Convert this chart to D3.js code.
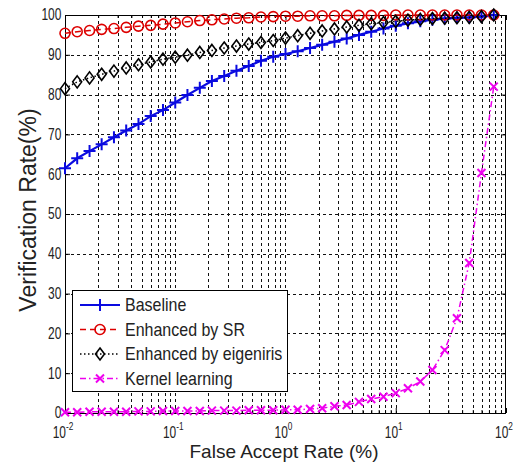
<!DOCTYPE html>
<html>
<head>
<meta charset="utf-8">
<script src="https://cdn.jsdelivr.net/npm/d3@7"></script>
<style>
  body { margin: 0; background: #fff; }
  text { font-family: "Liberation Sans", Arial, sans-serif; fill: #222; }
</style>
</head>
<body>
<svg id="chart" width="518" height="470"></svg>
<script>
// false accept rate (%) at each operating point
const far = [0.01, 0.0129, 0.0167, 0.0215, 0.0278, 0.0359, 0.0464, 0.0599, 0.0774,
  0.1, 0.129, 0.167, 0.215, 0.278, 0.359, 0.464, 0.599, 0.774,
  1, 1.29, 1.67, 2.15, 2.78, 3.59, 4.64, 5.99, 7.74,
  10, 12.9, 16.7, 21.5, 27.8, 35.9, 46.4, 59.9, 77.4];

const baseline = [61.5, 64.0, 65.8, 67.5, 69.3, 71.0, 72.6, 74.6, 76.1,
  78.0, 79.9, 81.7, 83.4, 84.7, 86.0, 87.2, 88.5, 89.5,
  90.2, 90.9, 91.7, 92.5, 93.3, 94.1, 95.0, 95.8, 96.6,
  97.3, 97.9, 98.4, 98.8, 99.1, 99.3, 99.4, 99.6, 100];

const enhancedSR = [95.4, 95.8, 96.1, 96.4, 96.6, 96.9, 97.2, 97.4, 97.7,
  98.0, 98.3, 98.6, 98.8, 99.0, 99.2, 99.3, 99.5, 99.6,
  99.7, 99.7, 99.8, 99.8, 99.8, 99.9, 99.9, 99.9, 99.9,
  100, 100, 100, 100, 100, 100, 100, 100, 100];

const eigeniris = [81.5, 83.2, 84.2, 85.1, 85.9, 86.7, 87.5, 88.2, 88.9,
  89.4, 89.9, 90.6, 91.1, 91.7, 92.2, 92.7, 93.1, 93.6,
  94.2, 94.8, 95.4, 96.0, 96.5, 97.0, 97.4, 97.8, 98.1,
  98.4, 98.7, 98.9, 99.1, 99.2, 99.3, 99.4, 99.6, 100];

const kernel = [0.2, 0.2, 0.3, 0.3, 0.3, 0.3, 0.4, 0.4, 0.5,
  0.5, 0.5, 0.5, 0.6, 0.6, 0.6, 0.7, 0.7, 0.7,
  0.8, 0.8, 1.0, 1.2, 1.7, 2.0, 2.8, 3.5, 4.1,
  5.0, 6.2, 7.9, 10.8, 15.8, 23.8, 37.7, 60.3, 82.0];

const seriesNames = ["Baseline", "Enhanced by SR", "Enhanced by eigeniris", "Kernel learning"];
const yTicks = [0, 10, 20, 30, 40, 50, 60, 70, 80, 90, 100];
const xMajor = [0.01, 0.1, 1, 10, 100];

const series = [
  { name: seriesNames[0], values: baseline, color: "#0a0ae0", dash: null, width: 2.2, marker: "plus" },
  { name: seriesNames[1], values: enhancedSR, color: "#dd0000", dash: "6,4", width: 1.5, marker: "circle" },
  { name: seriesNames[2], values: eigeniris, color: "#000000", dash: "1.5,2.5", width: 1.5, marker: "diamond" },
  { name: seriesNames[3], values: kernel, color: "#ee00ee", dash: "6,3,1.5,3", width: 1.5, marker: "cross" },
];

const plotLeft = 65, plotRight = 506, plotTop = 15, plotBottom = 413;

const x = d3.scaleLog().domain([0.01, 100]).range([plotLeft, plotRight]);
const y = d3.scaleLinear().domain([0, 100]).range([plotBottom, plotTop]);

const svg = d3.select("#chart");

// grid (matlab dotted grid shows as short dashes)
const grid = svg.append("g").attr("stroke", "#111").attr("stroke-width", 1).attr("stroke-dasharray", "3,3");
grid.selectAll("line.gy").data(yTicks.slice(1, -1)).join("line")
  .attr("x1", plotLeft).attr("x2", plotRight)
  .attr("y1", d => Math.round(y(d)) + 0.5).attr("y2", d => Math.round(y(d)) + 0.5);
grid.selectAll("line.gx").data(x.ticks().filter(d => d > 0.01 && d < 100)).join("line")
  .attr("y1", plotTop).attr("y2", plotBottom)
  .attr("x1", d => Math.round(x(d)) + 0.5).attr("x2", d => Math.round(x(d)) + 0.5);

// axes, ticks pointing inwards on all four sides
const minor = x.ticks().filter(d => !xMajor.includes(d));
svg.append("g").attr("transform", `translate(0,${plotBottom})`)
  .call(d3.axisBottom(x).tickValues(minor).tickSize(-3).tickFormat(""));
svg.append("g").attr("transform", `translate(0,${plotTop})`)
  .call(d3.axisTop(x).tickValues(minor).tickSize(-3).tickFormat(""));
svg.append("g").attr("transform", `translate(0,${plotBottom})`)
  .call(d3.axisBottom(x).tickValues(xMajor).tickSize(-5).tickFormat(""));
svg.append("g").attr("transform", `translate(0,${plotTop})`)
  .call(d3.axisTop(x).tickValues(xMajor).tickSize(-5).tickFormat(""));
svg.append("g").attr("transform", `translate(${plotLeft},0)`)
  .call(d3.axisLeft(y).tickValues(yTicks).tickSize(-5).tickPadding(4))
  .call(g => g.selectAll("text")
    .attr("font-size", 13).attr("font-family", null).attr("fill", "#222")
    .attr("transform", "scale(0.92,1.2)"));
svg.append("g").attr("transform", `translate(${plotRight},0)`)
  .call(d3.axisRight(y).tickValues(yTicks).tickSize(-5).tickFormat(""));
svg.selectAll(".domain").remove();

svg.append("rect")
  .attr("x", plotLeft + 0.5).attr("y", plotTop + 0.5)
  .attr("width", plotRight - plotLeft - 1).attr("height", plotBottom - plotTop)
  .attr("fill", "none").attr("stroke", "#000").attr("stroke-width", 1);

// x tick labels as 10^n
const xl = svg.append("g").selectAll("text").data(xMajor).join("text")
  .attr("transform", d => `translate(${x(d) - 2},${plotBottom + 25}) scale(0.92,1.2)`)
  .attr("text-anchor", "middle").attr("font-size", 13);
xl.append("tspan").text("10");
xl.append("tspan").attr("dy", -7).attr("font-size", 9).text(d => Math.round(Math.log10(d)));

// markers
const markerPath = {
  plus: "M-6,0H6M0,-6V6",
  diamond: "M0,-6L4.5,0L0,6L-4.5,0Z",
  cross: "M-4,-4L4,4M-4,4L4,-4",
};
function drawMarker(g, type, color) {
  if (type === "circle") {
    g.append("circle").attr("r", 5).attr("fill", "none").attr("stroke", color).attr("stroke-width", 1.6);
  } else {
    g.append("path").attr("d", markerPath[type]).attr("fill", "none")
      .attr("stroke", color).attr("stroke-width", type === "diamond" ? 1.6 : 2);
  }
}

const line = d3.line().x((d, i) => x(far[i])).y(d => y(d));

series.forEach(s => {
  svg.append("path").datum(s.values)
    .attr("d", line)
    .attr("fill", "none")
    .attr("stroke", s.color)
    .attr("stroke-width", s.width)
    .attr("stroke-dasharray", s.dash);
  s.values.forEach((v, i) => {
    const g = svg.append("g").attr("transform", `translate(${x(far[i])},${y(v)})`);
    drawMarker(g, s.marker, s.color);
  });
});

// legend
const legend = svg.append("g");
legend.append("rect")
  .attr("x", 72.5).attr("y", 290.5).attr("width", 215).attr("height", 101)
  .attr("fill", "#fff").attr("stroke", "#000").attr("stroke-width", 1);
series.forEach((s, i) => {
  const ly = 305 + i * 24.5;
  legend.append("line")
    .attr("x1", 80).attr("x2", 120).attr("y1", ly).attr("y2", ly)
    .attr("stroke", s.color).attr("stroke-width", s.width)
    .attr("stroke-dasharray", s.dash);
  drawMarker(legend.append("g").attr("transform", `translate(100,${ly})`), s.marker, s.color);
  legend.append("text")
    .attr("transform", `translate(125,${ly + 6}) scale(1,1.15)`)
    .attr("font-size", 16)
    .text(s.name);
});

// axis titles
svg.append("text")
  .attr("x", 284).attr("y", 458)
  .attr("text-anchor", "middle").attr("font-size", 19)
  .text("False Accept Rate (%)");
svg.append("text")
  .attr("transform", "translate(36,210) rotate(-90)")
  .attr("text-anchor", "middle").attr("font-size", 23)
  .text("Verification Rate(%)");
</script>
</body>
</html>
